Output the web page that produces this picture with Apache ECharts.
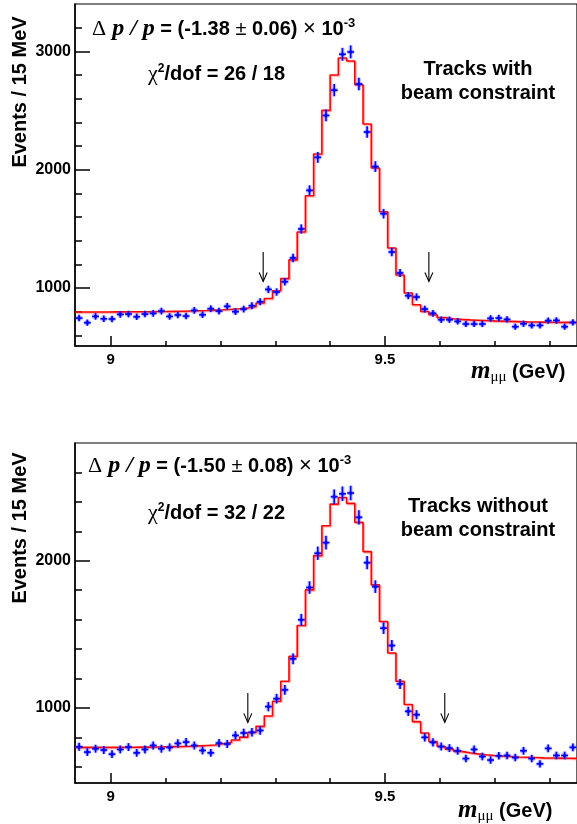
<!DOCTYPE html>
<html>
<head>
<meta charset="utf-8">
<script src="https://cdn.jsdelivr.net/npm/echarts@6/dist/echarts.min.js"></script>
<style>
html,body{margin:0;padding:0;background:#fff;}
#c{width:577px;height:824px;}
</style>
</head>
<body>
<div id="c"></div>
<script>
// ---- binning (15 MeV bins) ----
const binLow = 8.935;
const binWidth = 0.015;
const nBins = 61;

// ---- top panel: tracks with beam constraint ----
const dataTop = [746,707,760,740,738,777,780,757,780,786,
  805,760,772,763,811,774,825,805,845,800,
  822,850,884,988,966,1053,1254,1499,1825,2104,
  2458,2672,2975,2995,2724,2318,2026,1628,1304,1127,
  935,924,822,786,732,732,718,696,696,696,
  743,746,735,673,698,684,684,724,726,673,
  709];
const fitTop = [797,797,797,797,798,798,799,799,800,801,802,
  803,804,806,808,810,
  813,816,820,825,831,
  845,873,912,977,1079,1238,1473,1780,2133,2501,
  2800,2944,2918,2718,2386,2014,1645,1338,1110,958,
  859,802,774,750,740,735,731,728,725,722,
  720,718,716,714,713,712,711,710,710,709];

// ---- bottom panel: tracks without beam constraint ----
const dataBot = [736,700,723,714,686,718,734,695,718,745,
  723,732,759,768,745,711,695,761,755,813,
  830,834,847,1009,1063,1123,1334,1599,1818,2051,
  2123,2435,2455,2460,2295,1987,1824,1542,1424,1163,
  977,954,800,766,738,727,709,656,718,670,
  646,675,677,663,709,656,620,725,677,677,
  732];
const fitBot = [732,732,732,732,732,733,733,734,734,735,736,737,738,740,742,745,
  748,757,766,782,802,834,875,945,1045,1181,
  1350,1560,1802,2035,2238,2385,2430,2390,2261,2062,
  1836,1587,1373,1181,1023,907,830,772,738,720,
  705,695,688,682,677,673,670,667,665,663,
  661,660,659,658,657];

// ---- signal window arrows [x, yTop, yBottom] ----
const arrowsTop = [[9.278, 1305, 1055], [9.580, 1305, 1055]];
const arrowsBot = [[9.250, 1102, 902], [9.609, 1102, 902]];

// ---- axes ----
const xRange = [8.935, 9.85];
const xMajor = [9, 9.5];
const xMinor = [9.1, 9.2, 9.3, 9.4, 9.6, 9.7, 9.8];
const yRangeTop = [510, 3400];
const yMajorTop = [1000, 2000, 3000];
const yMinorTop = [600, 800, 1200, 1400, 1600, 1800, 2200, 2400, 2600, 2800, 3200];
const yRangeBot = [490, 2800];
const yMajorBot = [1000, 2000];
const yMinorBot = [600, 800, 1200, 1400, 1600, 1800, 2200, 2400, 2600];

// ---- texts ----
const textsTop = {res: '-1.38 ', err: ' 0.06) ', chi: '/dof = 26 / 18', l1: 'Tracks with', l2: 'beam constraint'};
const textsBot = {res: '-1.50 ', err: ' 0.08) ', chi: '/dof = 32 / 22', l1: 'Tracks without', l2: 'beam constraint'};

const SANS = "'Liberation Sans', Arial, Helvetica, sans-serif";
const SERIF = "'Liberation Serif', 'Times New Roman', serif";

function centers() { const c = []; for (let k = 0; k < nBins; k++) c.push(binLow + binWidth * (k + 0.5)); return c; }
const binCenters = centers();

function pointData(vals) { return vals.map((v, k) => [binCenters[k], v]); }
function stepData(vals) {
  const d = [];
  vals.forEach((v, k) => { d.push([binLow + binWidth * k, v]); d.push([binLow + binWidth * (k + 1), v]); });
  return d;
}

function renderPoint(params, api) {
  const x = api.value(0), y = api.value(1);
  const e = Math.sqrt(y);
  const hw = binWidth * 0.42;
  const t = api.coord([x, y + e]), b = api.coord([x, y - e]);
  const l = api.coord([x - hw, y]), r = api.coord([x + hw, y]);
  const halo = {stroke: 'rgba(80,80,255,0.35)', lineWidth: 4};
  const core = {stroke: '#0000ff', lineWidth: 1.6};
  return {type: 'group', children: [
    {type: 'line', shape: {x1: t[0], y1: t[1], x2: b[0], y2: b[1]}, style: halo},
    {type: 'line', shape: {x1: l[0], y1: l[1], x2: r[0], y2: r[1]}, style: halo},
    {type: 'line', shape: {x1: t[0], y1: t[1], x2: b[0], y2: b[1]}, style: core},
    {type: 'line', shape: {x1: l[0], y1: l[1], x2: r[0], y2: r[1]}, style: core},
    {type: 'circle', shape: {cx: l[0] + (r[0]-l[0])/2, cy: l[1], r: 1.6}, style: {fill: '#0000ff'}}
  ]};
}
function renderArrow(params, api) {
  const a = api.coord([api.value(0), api.value(1)]);
  const b = api.coord([api.value(0), api.value(2)]);
  const st = {stroke: '#000', lineWidth: 1.1, fill: null};
  return {type: 'group', children: [
    {type: 'line', shape: {x1: a[0], y1: a[1], x2: b[0], y2: b[1]}, style: st},
    {type: 'polyline', shape: {points: [[b[0]-4, b[1]-9], [b[0], b[1]], [b[0]+4, b[1]-9]]}, style: st}
  ]};
}

function xAxes(grid) {
  const base = {gridIndex: grid, type: 'value', min: xRange[0], max: xRange[1], splitLine: {show: false}};
  return [
    Object.assign({}, base, {
      axisLine: {show: true, onZero: false, lineStyle: {color: '#000', width: 1.5}},
      axisTick: {show: true, inside: true, length: 10, customValues: xMajor, lineStyle: {color: '#000', width: 1.5}},
      axisLabel: {show: true, customValues: xMajor, margin: 6, color: '#000', fontFamily: SANS, fontWeight: 'bold', fontSize: 15,
        formatter: v => String(v)}
    }),
    Object.assign({}, base, {
      position: 'bottom',
      axisLine: {show: false, onZero: false},
      axisTick: {show: true, inside: true, length: 5, customValues: xMinor, lineStyle: {color: '#000', width: 1.5}},
      axisLabel: {show: false}
    })
  ];
}
function yAxes(grid, range, major, minor) {
  const base = {gridIndex: grid, type: 'value', min: range[0], max: range[1], position: 'left', splitLine: {show: false}};
  return [
    Object.assign({}, base, {
      axisLine: {show: true, onZero: false, lineStyle: {color: '#000', width: 1.5}},
      axisTick: {show: true, inside: true, length: 15, customValues: major, lineStyle: {color: '#000', width: 1.5}},
      axisLabel: {show: true, customValues: major, margin: 4, color: '#000', fontFamily: SANS, fontWeight: 'bold', fontSize: 16,
        formatter: v => String(v)}
    }),
    Object.assign({}, base, {
      axisLine: {show: false, onZero: false},
      axisTick: {show: true, inside: true, length: 7, customValues: minor, lineStyle: {color: '#000', width: 1.5}},
      axisLabel: {show: false}
    })
  ];
}

function panelSeries(xi, yi, data, fit, arrows) {
  return [
    {type: 'line', xAxisIndex: xi, yAxisIndex: yi, data: stepData(fit), symbol: 'none', silent: true, animation: false,
      lineStyle: {color: '#ff0000', width: 1.6, shadowColor: 'rgba(255,90,90,0.55)', shadowBlur: 1, shadowOffsetX: 1.2, shadowOffsetY: 1}, z: 3},
    {type: 'custom', xAxisIndex: xi, yAxisIndex: yi, data: pointData(data), renderItem: renderPoint, animation: false, z: 4},
    {type: 'custom', xAxisIndex: xi, yAxisIndex: yi, data: arrows, renderItem: renderArrow, animation: false, z: 5}
  ];
}

function richLine(t) {
  return '{d|Δ}{pp| p / p}{b| = (' + t.res + '}{pm|±}{b|' + t.err + '}{x|×}{b| 10}{sup|-3}';
}
const richStyles = {
  d: {fontFamily: SERIF, fontSize: 22, fill: '#000'},
  pp: {fontFamily: SERIF, fontSize: 24, fontStyle: 'italic', fontWeight: 'bold', fill: '#000'},
  b: {fontFamily: SANS, fontSize: 20, fontWeight: 'bold', fill: '#000'},
  pm: {fontFamily: SANS, fontSize: 20, fill: '#000'},
  x: {fontFamily: SANS, fontSize: 22, fill: '#000'},
  sup: {fontFamily: SANS, fontSize: 13, fontWeight: 'bold', fill: '#000', verticalAlign: 'top'},
  chi: {fontFamily: SERIF, fontSize: 22, fill: '#000'},
  sup2: {fontFamily: SANS, fontSize: 12, fontWeight: 'bold', fill: '#000', verticalAlign: 'top'},
  m: {fontFamily: SERIF, fontSize: 25, fontStyle: 'italic', fontWeight: 'bold', fill: '#000'},
  sub: {fontFamily: SERIF, fontSize: 15, fill: '#000', verticalAlign: 'bottom'},
  gev: {fontFamily: SANS, fontSize: 20, fontWeight: 'bold', fill: '#000'}
};
function txt(x, y, text, extra) {
  return Object.assign({type: 'text', x: x, y: y, silent: true,
    style: {text: text, rich: richStyles, verticalAlign: 'middle', align: 'left', fill: '#000',
      font: 'bold 20px ' + SANS}}, extra || {});
}
function panelTexts(t, yOff, dx, mx, my, ey) {
  return [
    txt(dx, 29 + yOff, richLine(t)),
    txt(148, 74 + yOff + (yOff ? 2 : 0), '{chi|χ}{sup2|2}{b|' + t.chi + '}'),
    {type: 'text', x: 478, y: 66 + yOff, silent: true,
      style: {text: t.l1 + '\n' + t.l2, align: 'center', verticalAlign: 'top', fill: '#000',
        font: 'bold 20px ' + SANS, lineHeight: 24.5}},
    txt(mx, my, '{m|m}{sub|μμ}{gev| (GeV)}'),
    {type: 'text', x: 20, y: ey, rotation: Math.PI / 2, silent: true,
      style: {text: 'Events / 15 MeV', align: 'center', verticalAlign: 'middle', fill: '#000', font: 'bold 20px ' + SANS}}
  ];
}

const chart = echarts.init(document.getElementById('c'), null, {renderer: 'canvas'});
const topTexts = panelTexts(textsTop, 0, 92, 471, 372, 92);
topTexts[2].y = 57;
const botTexts = panelTexts(textsBot, 437, 88, 458, 811, 528);
botTexts[2].y = 494;
chart.setOption({
  animation: false,
  backgroundColor: '#fff',
  grid: [
    {left: 75, top: 4, width: 502, height: 342, show: true, borderColor: '#000', borderWidth: 1.2},
    {left: 75, top: 443, width: 502, height: 340, show: true, borderColor: '#000', borderWidth: 1.2}
  ],
  xAxis: xAxes(0).concat(xAxes(1)),
  yAxis: yAxes(0, yRangeTop, yMajorTop, yMinorTop).concat(yAxes(1, yRangeBot, yMajorBot, yMinorBot)),
  series: panelSeries(0, 0, dataTop, fitTop, arrowsTop).concat(panelSeries(2, 2, dataBot, fitBot, arrowsBot)),
  graphic: topTexts.concat(botTexts)
});
</script>
</body>
</html>
